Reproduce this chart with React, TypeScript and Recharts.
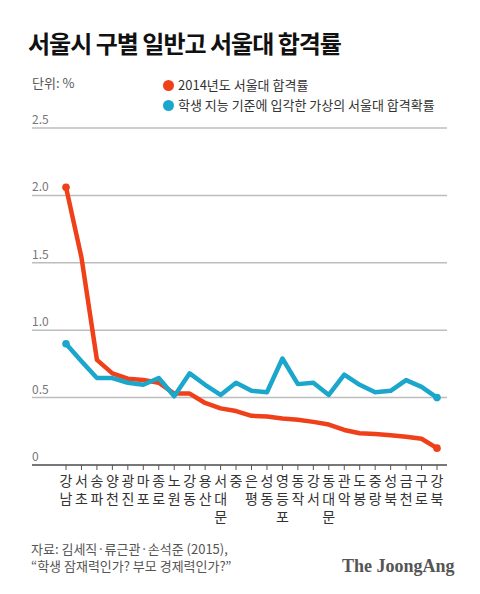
import React from 'react';
import { LineChart, Line, XAxis, YAxis, CartesianGrid } from 'recharts';

// 서울시 구별 일반고 서울대 합격률 (단위: %)
const districts = [
  '강남', '서초', '송파', '양천', '광진', '마포', '종로', '노원', '강동', '용산',
  '서대문', '중', '은평', '성동', '영등포', '동작', '강서', '동대문', '관악', '도봉',
  '중랑', '성북', '금천', '구로', '강북',
];

// 2014년도 서울대 합격률
const admitRate2014 = [
  2.06, 1.54, 0.78, 0.68, 0.64, 0.63, 0.61, 0.53, 0.53, 0.46,
  0.42, 0.4, 0.365, 0.36, 0.345, 0.335, 0.32, 0.3, 0.26, 0.235,
  0.23, 0.22, 0.21, 0.195, 0.125,
];

// 학생 지능 기준에 입각한 가상의 서울대 합격확률
const expectedRate = [
  0.9, 0.77, 0.645, 0.645, 0.61, 0.595, 0.645, 0.51, 0.68, 0.595,
  0.52, 0.61, 0.55, 0.54, 0.79, 0.6, 0.61, 0.52, 0.67, 0.595,
  0.54, 0.55, 0.63, 0.58, 0.5,
];

const yTicks = [0, 0.5, 1, 1.5, 2, 2.5];

const RED = '#ef4019';
const BLUE = '#1ba6cc';
const FONT = '"Noto Sans CJK KR", "Noto Sans", sans-serif';

const data = districts.map((name, i) => ({
  name,
  actual: admitRate2014[i],
  expected: expectedRate[i],
}));

const YTick = ({ y, payload }: any) => (
  <text x={32} y={y - 4} fontSize={12} fill="#777" fontFamily={FONT} textAnchor="start">
    {payload.value === 0 ? '0' : Number(payload.value).toFixed(1)}
  </text>
);

// district names are written top to bottom, one syllable per row
const XTick = ({ x, y, payload }: any) => {
  const chars = Array.from(String(payload.value));
  return (
    <text textAnchor="middle" fontSize={14} fill="#333" fontFamily={FONT}>
      {chars.map((c, i) => (
        <tspan key={i} x={x} y={y + 16 + i * 18}>{c}</tspan>
      ))}
    </text>
  );
};

const endDot = (color: string) => (props: any) => {
  const { cx, cy, index } = props;
  if (index !== 0 && index !== districts.length - 1) return <g key={index} />;
  return <circle key={index} cx={cx} cy={cy} r={3.8} fill={color} />;
};

const LegendRow = ({ color, label, top }: { color: string; label: string; top: number }) => (
  <div style={{ position: 'absolute', left: 163, top, display: 'flex', alignItems: 'center', height: 14 }}>
    <span style={{ width: 11, height: 11, borderRadius: '50%', background: color, display: 'inline-block', marginRight: 4 }} />
    <span style={{ fontSize: 13, color: '#333', lineHeight: '14px' }}>{label}</span>
  </div>
);

export default function App() {
  return (
    <div style={{ position: 'absolute', left: 0, top: 0, width: 480, height: 594, background: '#fff', fontFamily: FONT, overflow: 'hidden' }}>
      <LineChart width={480} height={594} data={data} margin={{ top: 128, right: 33, left: 2, bottom: 0 }}>
        <CartesianGrid vertical={false} stroke="#bdbdbd" strokeWidth={1.5} />
        <XAxis
          dataKey="name"
          interval={0}
          padding={{ left: 34, right: 10 }}
          height={129}
          tick={<XTick />}
          tickSize={5}
          tickMargin={0}
          axisLine={{ stroke: '#222' }}
          tickLine={{ stroke: '#555' }}
        />
        <YAxis
          domain={[0, 2.5]}
          ticks={yTicks}
          width={30}
          axisLine={false}
          tickLine={false}
          tick={<YTick />}
          interval={0}
        />
        <Line
          type="linear"
          dataKey="actual"
          stroke={RED}
          strokeWidth={4.5}
          strokeLinejoin="round"
          dot={endDot(RED)}
          activeDot={false}
          isAnimationActive={false}
        />
        <Line
          type="linear"
          dataKey="expected"
          stroke={BLUE}
          strokeWidth={4.5}
          strokeLinejoin="round"
          dot={endDot(BLUE)}
          activeDot={false}
          isAnimationActive={false}
        />
      </LineChart>

      <div style={{ position: 'absolute', left: 28, top: 31, fontSize: 24, fontWeight: 700, letterSpacing: -1, color: '#111', lineHeight: '24px', whiteSpace: 'nowrap' }}>
        서울시 구별 일반고 서울대 합격률
      </div>
      <div style={{ position: 'absolute', left: 32, top: 76, fontSize: 13, color: '#555', lineHeight: '13px' }}>단위: %</div>
      <LegendRow color={RED} label="2014년도 서울대 합격률" top={78} />
      <LegendRow color={BLUE} label="학생 지능 기준에 입각한 가상의 서울대 합격확률" top={98} />

      <div style={{ position: 'absolute', left: 31, top: 540, fontSize: 13, color: '#555', lineHeight: '17px', whiteSpace: 'nowrap' }}>
        자료: 김세직·류근관·손석준 (2015),
        <br />
        “학생 잠재력인가? 부모 경제력인가?”
      </div>
      <div style={{ position: 'absolute', left: 342, top: 556, fontSize: 18, fontWeight: 700, color: '#555', fontFamily: '"Liberation Serif", serif', lineHeight: '20px' }}>
        The JoongAng
      </div>
    </div>
  );
}
